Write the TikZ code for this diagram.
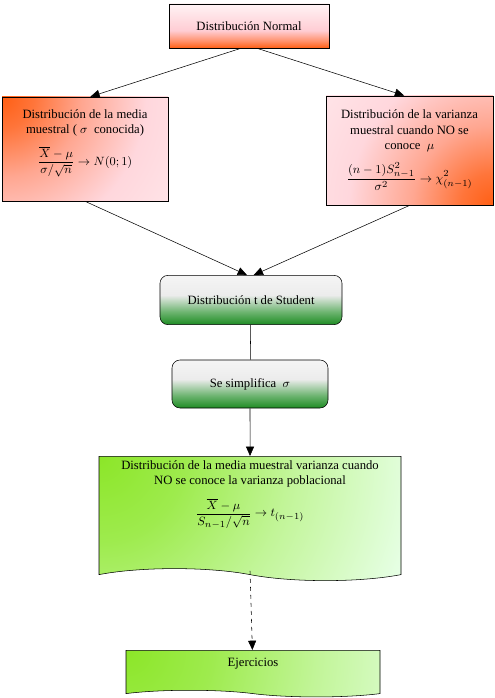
\documentclass[tikz,border=0pt]{standalone}
\usepackage{fontspec}
\setmainfont{Liberation Serif}
\usetikzlibrary{shapes.symbols, arrows.meta, positioning, calc}

\definecolor{salmon}{RGB}{255,205,212}
\definecolor{fire}{RGB}{255,95,20}
\definecolor{leaf}{RGB}{30,140,35}
\definecolor{lime}{RGB}{140,230,40}
\definecolor{mint}{RGB}{230,255,228}

% vertical ones run bottom to top, the box spans 25bp..75bp
\pgfdeclareverticalshading{normalfade}{100bp}{color(0bp)=(fire); color(25bp)=(fire); color(33bp)=(fire!55!salmon); color(45bp)=(salmon); color(75bp)=(salmon!25); color(100bp)=(salmon!25)}
\pgfdeclareverticalshading{greenfade}{100bp}{color(0bp)=(leaf); color(25bp)=(leaf); color(38bp)=(leaf!65!white); color(55bp)=(gray!15); color(75bp)=(gray!8); color(100bp)=(gray!8)}
% corner glows, centre of the circle on a corner of the box
\pgfdeclareradialshading{fireglow}{\pgfpoint{0bp}{0bp}}{color(0bp)=(fire); color(2bp)=(fire!80!salmon); color(5bp)=(fire!35!salmon); color(9bp)=(salmon!80); color(16bp)=(salmon!30); color(50bp)=(salmon!30)}
\pgfdeclareradialshading{limeglow}{\pgfpoint{0bp}{0bp}}{color(0bp)=(lime); color(4bp)=(lime!80!mint); color(9bp)=(lime!40!mint); color(15bp)=(mint); color(50bp)=(mint)}

\begin{document}
\begin{tikzpicture}[
        x=0.75pt, y=-0.75pt,
        font=\fontsize{9.5}{11.5}\selectfont,
        titlebox/.style={rectangle, draw=black, minimum width=120pt, minimum height=33pt, shading=normalfade},
        pinkbox/.style={rectangle, draw=black, fill=salmon!30, align=center, inner sep=2pt},
        greenbox/.style={rectangle, draw=black, rounded corners=6pt, shading=greenfade, align=center},
        docbox/.style={tape, tape bend top=none, tape bend bottom=out and in, tape bend height=9pt, draw=black, align=center, fill=mint, anchor=north,
            path picture={\shade[shading=limeglow] (path picture bounding box.north west) circle (400pt);}},
        arrow/.style={-{Triangle[length=7pt, width=6pt]}, draw=black}
    ]
        \useasboundingbox (0,0) rectangle (494,698);

        \node[titlebox] (normal) at (249,26) {Distribución Normal};
        \node[pinkbox, minimum width=124.5pt, minimum height=78pt,
            path picture={\shade[shading=fireglow] (path picture bounding box.north west) circle (300pt);}]
            (media) at (85,149) {Distribución de la media\\ muestral ( $\sigma$ \ conocida)\\[7pt]
            $\displaystyle\frac{\overline{X}-\mu}{\sigma/\sqrt{n}}\to N(0;1)$\\[6pt]};
        \node[pinkbox, minimum width=125pt, minimum height=82pt,
            path picture={\shade[shading=fireglow] (path picture bounding box.south east) circle (300pt);}]
            (varianza) at (409.5,150.5) {Distribución de la varianza\\ muestral cuando NO se\\ conoce \ $\mu$\\[7pt]
            $\displaystyle\frac{(n-1)S^2_{n-1}}{\sigma^2}\to\chi^2_{(n-1)}$};
        \node[greenbox, minimum width=136.5pt, minimum height=37pt] (student) at (251,300) {Distribución t de Student};
        \node[greenbox, minimum width=117pt, minimum height=36pt] (simplifica) at (250,384) {Se simplifica \ $\sigma$};
        \node[docbox, minimum width=226.5pt, minimum height=92pt] (tmedia) at (250,456)
            {Distribución de la media muestral varianza cuando\\ NO se conoce la varianza poblacional\\[7pt]
            $\displaystyle\frac{\overline{X}-\mu}{S_{n-1}/\sqrt{n}}\to t_{(n-1)}$\\[24pt]};
        \node[docbox, minimum width=190.5pt, minimum height=35pt, tape bend height=5pt] (ejercicios) at (253,650) {Ejercicios\\[0pt]};

        \draw[arrow] ([xshift=-6pt]normal.south) -- ([xshift=4pt]media.north);
        \draw[arrow] ([xshift=6pt]normal.south) -- ([xshift=-4pt]varianza.north);
        \draw[arrow] (media.south) -- ([xshift=-3pt]student.north);
        \draw[arrow] (varianza.south) -- ([xshift=2pt]student.north);
        \draw (student) -- (simplifica);
        \draw[arrow] (simplifica) -- (tmedia);
        \draw[arrow, dashed] ($(tmedia.south)+(0,2)$) -- (ejercicios);
    \end{tikzpicture}
\end{document}
